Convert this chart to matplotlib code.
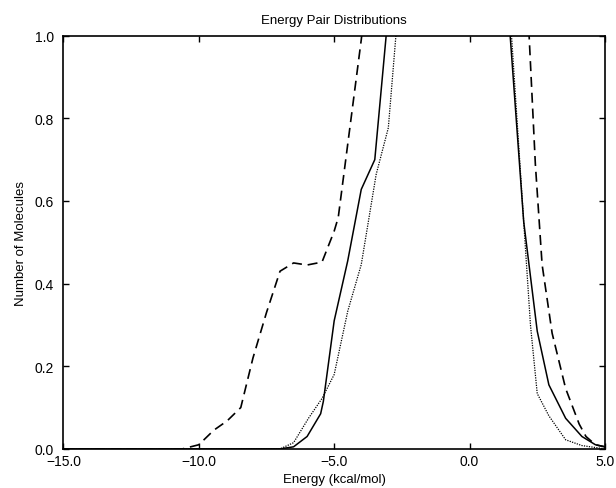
import matplotlib.pyplot as plt
import numpy as np

plt.rcParams['font.family'] = ['Liberation Sans', 'DejaVu Sans']

# dashed curve
dash_x = [-15.0, -10.6, -10.0, -9.45, -8.95, -8.45, -8.0, -7.5, -7.0, -6.5, -6.0, -5.45, -5.0, -4.85, -4.0, -3.9,
          2.1, 2.2, 2.43, 2.68, 3.05, 3.55, 4.05, 4.3, 4.65, 5.0]
dash_y = [0.0, 0.0, 0.01, 0.045, 0.068, 0.10, 0.22, 0.33, 0.43, 0.45, 0.445, 0.452, 0.527, 0.56, 0.99, 1.05,
          1.05, 1.0, 0.69, 0.446, 0.28, 0.146, 0.06, 0.03, 0.01, 0.005]

# solid curve
solid_x = [-15.0, -7.0, -6.5, -6.0, -5.5, -5.4, -5.0, -4.5, -4.0, -3.5, -3.08, -3.0,
           1.45, 1.5, 2.0, 2.5, 2.93, 3.55, 4.15, 4.65, 5.0]
solid_y = [0.0, 0.0, 0.005, 0.03, 0.085, 0.115, 0.31, 0.455, 0.628, 0.70, 1.0, 1.05,
           1.05, 1.0, 0.55, 0.285, 0.155, 0.074, 0.03, 0.01, 0.005]

# dotted curve
dot_x = [-15.0, -7.0, -6.5, -5.95, -5.45, -5.0, -4.5, -4.0, -3.45, -3.0, -2.72, -2.65,
         1.5, 1.55, 2.05, 2.25, 2.5, 2.93, 3.55, 4.15, 5.0]
dot_y = [0.0, 0.0, 0.015, 0.074, 0.122, 0.18, 0.333, 0.446, 0.664, 0.777, 1.0, 1.05,
         1.05, 1.0, 0.5, 0.3, 0.134, 0.08, 0.022, 0.008, 0.0]

fig = plt.figure(figsize=(6.16, 4.89), dpi=100)
ax = fig.add_axes([0.103, 0.080, 0.879, 0.845])

ax.plot(dash_x, dash_y, color='black', linewidth=1.2, linestyle=(0, (6, 3.5)))
ax.plot(solid_x, solid_y, color='black', linewidth=1.1)
ax.plot(dot_x, dot_y, color='black', linewidth=0.9, linestyle=(0, (1, 1)))

ax.set_xlim(-15, 5)
ax.set_ylim(0, 1)
ax.set_xticks(np.arange(-15, 5.1, 5))
ax.set_xticklabels(['\u221215.0', '\u221210.0', '\u22125.0', '0.0', '5.0'])
ax.set_yticks(np.arange(0, 1.01, 0.2))
ax.set_yticklabels(['0.0', '0.2', '0.4', '0.6', '0.8', '1.0'])
ax.tick_params(direction='in', top=True, right=True, length=4, width=1, labelsize=10)
ax.tick_params(axis='x', pad=4)
ax.tick_params(axis='y', pad=7)
for s in ax.spines.values():
    s.set_linewidth(1.2)

ax.set_xlabel('Energy (kcal/mol)', fontsize=9.5, labelpad=3)
ax.set_ylabel('Number of Molecules', fontsize=9.5, labelpad=5)
ax.set_title('Energy Pair Distributions', fontsize=9.5, pad=9)

fig.savefig('out.png', dpi=100)
